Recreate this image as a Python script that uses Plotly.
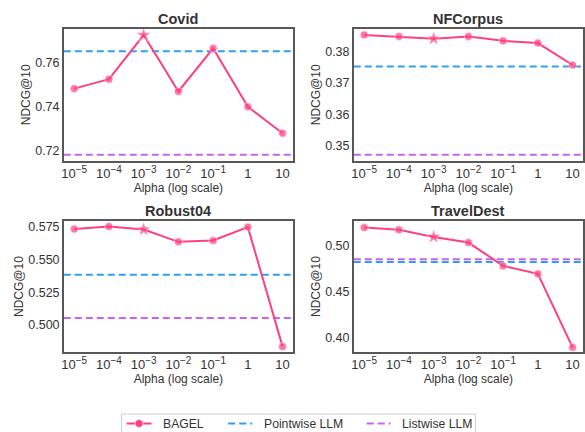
import plotly.graph_objects as go

# Alpha sweep (log scale) and tick labels
alphas = [1e-5, 1e-4, 1e-3, 1e-2, 1e-1, 1, 10]
SUP = '<sup><span style="font-size:10px">{}</span></sup>'
alpha_labels = ["10" + SUP.format("−5"), "10" + SUP.format("−4"),
                "10" + SUP.format("−3"), "10" + SUP.format("−2"),
                "10" + SUP.format("−1"), "1", "10"]

# NDCG@10 for each dataset
datasets = ["Covid", "NFCorpus", "Robust04", "TravelDest"]
covid_bagel = [0.7483, 0.7526, 0.7727, 0.7470, 0.7667, 0.7400, 0.7280]
nfcorpus_bagel = [0.3853, 0.3848, 0.3841, 0.3848, 0.3834, 0.3827, 0.3757]
robust04_bagel = [0.5735, 0.5755, 0.5732, 0.5637, 0.5647, 0.5750, 0.4834]
traveldest_bagel = [0.5189, 0.5165, 0.5089, 0.5028, 0.4777, 0.4691, 0.3899]

# Baselines
pointwise_llm = [0.7653, 0.3752, 0.5385, 0.4820]
listwise_llm = [0.7182, 0.3471, 0.5054, 0.4849]

# Y ranges and ticks per panel
y_ranges = [[0.7155, 0.7755], [0.3452, 0.3872], [0.4795, 0.5793], [0.3853, 0.5255]]
y_ticks = [[0.72, 0.74, 0.76], [0.35, 0.36, 0.37, 0.38],
           [0.500, 0.525, 0.550, 0.575], [0.40, 0.45, 0.50]]
y_fmt = [".2f", ".2f", ".3f", ".2f"]

bagel_series = [covid_bagel, nfcorpus_bagel, robust04_bagel, traveldest_bagel]
best_index = 2  # alpha = 1e-3 highlighted with a star

legend_names = ["BAGEL", "Pointwise LLM", "Listwise LLM"]

PINK = "#FF3F80"
BLUE = "#2F9FF2"
PURPLE = "#C563F5"
FRAME = "#585858"
TEXT = "#333333"
FONT = "Liberation Sans, Arial, sans-serif"
DASH = "7px,4px"

XLOG_MIN, XLOG_MAX = -5.3, 1.3

W, H = 585, 432
x_domains = [[62 / W, 292 / W], [353 / W, 583 / W]]
y_domains = [[1 - 160 / H, 1 - 28 / H], [1 - 351.5 / H, 1 - 221 / H]]

fig = go.Figure()

for i, name in enumerate(datasets):
    row, col = divmod(i, 2)
    ax = "" if i == 0 else str(i + 1)
    xref, yref = "x" + ax, "y" + ax

    x_span = [10 ** XLOG_MIN, 10 ** XLOG_MAX]
    fig.add_trace(go.Scatter(
        x=x_span, y=[pointwise_llm[i]] * 2, mode="lines",
        line=dict(color=BLUE, width=2, dash=DASH),
        name="Pointwise LLM", showlegend=False,
        xaxis=xref, yaxis=yref, hoverinfo="skip"))
    fig.add_trace(go.Scatter(
        x=x_span, y=[listwise_llm[i]] * 2, mode="lines",
        line=dict(color=PURPLE, width=2, dash=DASH),
        name="Listwise LLM", showlegend=False,
        xaxis=xref, yaxis=yref, hoverinfo="skip"))

    symbols = ["star" if k == best_index else "circle" for k in range(len(alphas))]
    sizes = [11 if k == best_index else 8 for k in range(len(alphas))]
    fig.add_trace(go.Scatter(
        x=alphas, y=bagel_series[i], mode="lines+markers",
        line=dict(color=PINK, width=2),
        marker=dict(symbol=symbols, size=sizes, color=PINK,
                    line=dict(color="white", width=0.6)),
        name="BAGEL", showlegend=False,
        xaxis=xref, yaxis=yref))

    fig.update_layout(**{
        "xaxis" + ax: dict(
            domain=x_domains[col], type="log", range=[XLOG_MIN, XLOG_MAX],
            tickvals=alphas, ticktext=alpha_labels, ticks="",
            showgrid=False, zeroline=False, showline=True, mirror=True,
            linecolor=FRAME, linewidth=1.5, anchor=yref,
            tickfont=dict(size=13, color=TEXT, family=FONT),
            title=dict(text="Alpha (log scale)", standoff=3,
                       font=dict(size=12, color=TEXT, family=FONT))),
        "yaxis" + ax: dict(
            domain=y_domains[row], range=y_ranges[i], tickvals=y_ticks[i],
            tickformat=y_fmt[i], ticks="", showgrid=False, zeroline=False,
            showline=True, mirror=True, linecolor=FRAME, linewidth=1.5,
            anchor=xref,
            tickfont=dict(size=12.5, color=TEXT, family=FONT),
            title=dict(text="NDCG@10", standoff=2,
                       font=dict(size=12, color=TEXT, family=FONT))),
    })

    fig.add_annotation(
        text="<b>" + name + "</b>", xref=xref + " domain", yref=yref + " domain",
        x=0.5, y=1.0, xanchor="center", yanchor="bottom", yshift=0,
        showarrow=False, font=dict(size=14.5, color=TEXT, family=FONT))

# Legend box along the bottom edge, drawn in pixel-based paper coordinates
def px(x):
    return x / W

def py(y):
    return 1 - y / H

leg_y = 423.5
fig.add_shape(type="rect", xref="paper", yref="paper",
              x0=px(120), x1=px(475), y0=py(440), y1=py(414),
              line=dict(color="#CCCCCC", width=1), fillcolor="white", layer="above")
handles = [(125, 150, PINK, "solid"), (227, 251, BLUE, "dash"), (366, 390, PURPLE, "dash")]
text_x = [160, 261, 399.5]
for (x0, x1, color, style), tx, label in zip(handles, text_x, legend_names):
    fig.add_shape(type="line", xref="paper", yref="paper",
                  x0=px(x0), x1=px(x1), y0=py(leg_y), y1=py(leg_y),
                  line=dict(color=color, width=2,
                            dash=DASH if style == "dash" else "solid"),
                  layer="above")
    fig.add_annotation(text=label, xref="paper", yref="paper",
                       x=px(tx), y=py(leg_y), xanchor="left", yanchor="middle",
                       showarrow=False,
                       font=dict(size=12.2, color=TEXT, family=FONT))
fig.add_shape(type="circle", xref="paper", yref="paper",
              x0=px(133.5), x1=px(141.5), y0=py(427.5), y1=py(419.5),
              line=dict(color="white", width=0.6), fillcolor=PINK, layer="above")

fig.update_layout(
    width=W, height=H, margin=dict(l=0, r=0, t=0, b=0),
    paper_bgcolor="white", plot_bgcolor="white",
    font=dict(family=FONT, color=TEXT),
    showlegend=False,
)

fig.write_html("out.html")
